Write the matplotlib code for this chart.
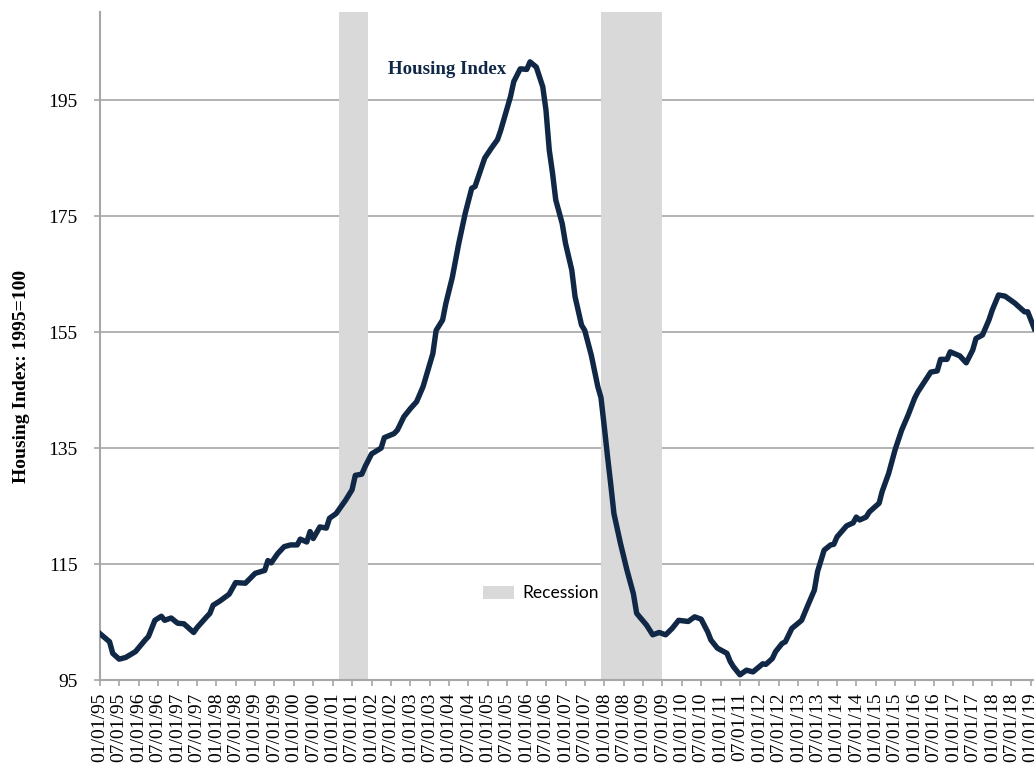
import matplotlib
matplotlib.use("Agg")
import matplotlib.pyplot as plt
import matplotlib.dates as mdates
import pandas as pd

# housing index readings (month, value), 1995=100
months = [
    "1995-01", "1995-04", "1995-05", "1995-07", "1995-09", "1995-12",
    "1996-03", "1996-04", "1996-06", "1996-08", "1996-09", "1996-11",
    "1997-01", "1997-03", "1997-04", "1997-06", "1997-07", "1997-10",
    "1997-11", "1997-12", "1998-02", "1998-05", "1998-07", "1998-10",
    "1999-01", "1999-04", "1999-05", "1999-06", "1999-08", "1999-10",
    "1999-12", "2000-02", "2000-03", "2000-05", "2000-06", "2000-07",
    "2000-09", "2000-11", "2000-12", "2001-02", "2001-05", "2001-07",
    "2001-08", "2001-10", "2001-11", "2002-01", "2002-04", "2002-05",
    "2002-08", "2002-09", "2002-11", "2003-01", "2003-03", "2003-05",
    "2003-08", "2003-09", "2003-11", "2003-12", "2004-02", "2004-04",
    "2004-06", "2004-08", "2004-09", "2004-12", "2005-02", "2005-04",
    "2005-05", "2005-08", "2005-09", "2005-11", "2006-01", "2006-02",
    "2006-04", "2006-06", "2006-07", "2006-08", "2006-09", "2006-10",
    "2006-12", "2007-01", "2007-03", "2007-04", "2007-06", "2007-07",
    "2007-09", "2007-11", "2007-12", "2008-01", "2008-02", "2008-03",
    "2008-04", "2008-06", "2008-08", "2008-10", "2008-11", "2009-02",
    "2009-04", "2009-06", "2009-07", "2009-08", "2009-10", "2009-12",
    "2010-03", "2010-05", "2010-07", "2010-09", "2010-10", "2010-12",
    "2011-03", "2011-04", "2011-05", "2011-07", "2011-09", "2011-11",
    "2012-02", "2012-03", "2012-05", "2012-06", "2012-08", "2012-09",
    "2012-11", "2013-02", "2013-04", "2013-06", "2013-07", "2013-09",
    "2013-11", "2013-12", "2014-01", "2014-04", "2014-06", "2014-07",
    "2014-08", "2014-10", "2014-11", "2015-02", "2015-03", "2015-05",
    "2015-07", "2015-09", "2015-11", "2016-01", "2016-02", "2016-04",
    "2016-06", "2016-08", "2016-09", "2016-11", "2016-12", "2017-03",
    "2017-05", "2017-07", "2017-08", "2017-10", "2017-12", "2018-01",
    "2018-03", "2018-05", "2018-08", "2018-09", "2018-11", "2018-12",
    "2019-02",
]
index_values = [
    103.0, 101.6, 99.6, 98.6, 98.9, 99.9,
    101.9, 102.5, 105.3, 106.0, 105.3, 105.7,
    104.8, 104.7, 104.2, 103.2, 104.0, 105.9,
    106.5, 107.9, 108.6, 109.8, 111.8, 111.7,
    113.4, 113.9, 115.6, 115.2, 116.8, 118.0,
    118.3, 118.3, 119.3, 118.8, 120.6, 119.4,
    121.4, 121.2, 122.9, 123.7, 126.0, 127.8,
    130.3, 130.5, 131.8, 134.0, 135.0, 136.8,
    137.5, 138.1, 140.4, 141.8, 143.0, 145.6,
    151.3, 155.3, 157.1, 159.9, 164.5, 170.3,
    175.5, 179.8, 180.1, 185.0, 186.7, 188.2,
    189.8, 195.6, 198.2, 200.4, 200.3, 201.6,
    200.7, 197.3, 193.3, 186.4, 182.4, 177.8,
    173.7, 170.3, 165.7, 161.1, 156.2, 155.3,
    151.0, 145.6, 143.7, 138.7, 133.5, 128.9,
    123.7, 118.6, 114.0, 109.9, 106.5, 104.5,
    102.8, 103.2, 103.0, 102.8, 103.9, 105.3,
    105.1, 105.9, 105.5, 103.3, 101.9, 100.5,
    99.6, 98.2, 97.3, 95.9, 96.7, 96.4,
    97.8, 97.7, 98.7, 99.9, 101.3, 101.6,
    103.9, 105.3, 107.9, 110.5, 113.7, 117.4,
    118.3, 118.4, 119.7, 121.6, 122.1, 123.1,
    122.6, 123.1, 124.0, 125.5, 127.5, 130.6,
    134.7, 138.1, 140.7, 143.6, 144.7, 146.4,
    148.1, 148.3, 150.3, 150.3, 151.6, 150.9,
    149.7, 151.9, 153.9, 154.5, 157.1, 158.8,
    161.4, 161.2, 160.0, 159.5, 158.5, 158.5,
    155.6,
]
recessions = [("2001-03-01", "2001-12-01"), ("2007-12-01", "2009-07-01")]
yticks = [95, 115, 135, 155, 175, 195]

navy = "#102846"
grid_gray = "#a6a6a6"

dates = pd.to_datetime(months)
fig = plt.figure(figsize=(10.34, 7.64), dpi=100)
ax = fig.add_axes([0.0967, 0.1099, 0.9033, 0.8744])

for i, (start, end) in enumerate(recessions):
    ax.axvspan(pd.Timestamp(start), pd.Timestamp(end), color="#d9d9d9", lw=0,
               label="Recession" if i == 0 else None, zorder=1)

ax.plot(dates, index_values, color=navy, lw=3.9, solid_joinstyle="round", zorder=3)

ax.set_ylim(95, 210.2)
ax.set_xlim(pd.Timestamp("1995-01-01"), pd.Timestamp("2019-01-29"))
ax.set_yticks(yticks)
ax.yaxis.grid(True, color=grid_gray, lw=1.2)
ax.set_axisbelow(True)

ax.xaxis.set_major_locator(mdates.MonthLocator(bymonth=[1, 7]))
ax.xaxis.set_major_formatter(mdates.DateFormatter("%m/%d/%y"))
plt.setp(ax.get_xticklabels(), rotation=90, ha="center", va="top")

for lab in ax.get_xticklabels() + ax.get_yticklabels():
    lab.set_fontfamily("Liberation Serif")
ax.tick_params(axis="x", labelsize=14, length=4, width=1.2, color=grid_gray, pad=5)
ax.tick_params(axis="y", labelsize=14, length=4.3, width=1.2, color=grid_gray, pad=12)

for side in ["top", "right"]:
    ax.spines[side].set_visible(False)
for side in ["left", "bottom"]:
    ax.spines[side].set_color(grid_gray)
    ax.spines[side].set_linewidth(1.5)

fig.text(22 / 1034, 1 - 376 / 764, "Housing Index: 1995=100", rotation=90,
         ha="center", va="center", fontfamily="Liberation Serif",
         fontweight="bold", fontsize=14)

ax.text(pd.Timestamp("2002-06-01"), 200.2, "Housing Index", color=navy, va="center",
        fontfamily="Liberation Serif", fontweight="bold", fontsize=13.6)

ax.legend(loc="center left", bbox_to_anchor=(0.393, 0.13), frameon=False,
          prop={"family": "Lato", "size": 12.5}, handlelength=1.8, handleheight=0.8,
          handletextpad=0.5)

fig.savefig("out.png", dpi=100)
